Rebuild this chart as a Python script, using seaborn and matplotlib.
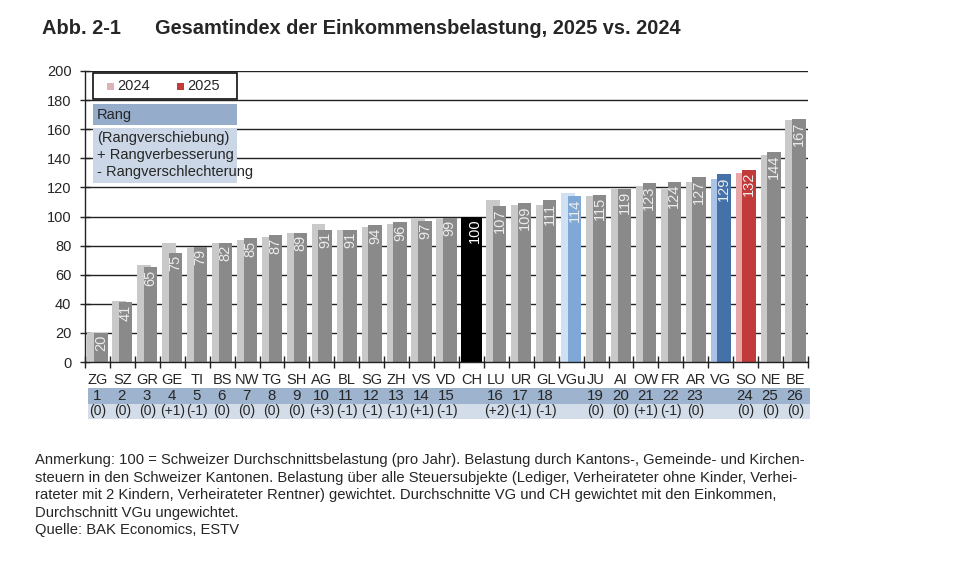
import matplotlib.pyplot as plt
import matplotlib.transforms as mtransforms
from matplotlib.patches import Rectangle
import pandas as pd
import seaborn as sns

# Data
cantons = ['ZG', 'SZ', 'GR', 'GE', 'TI', 'BS', 'NW', 'TG', 'SH', 'AG', 'BL', 'SG', 'ZH', 'VS', 'VD',
           'CH', 'LU', 'UR', 'GL', 'VGu', 'JU', 'AI', 'OW', 'FR', 'AR', 'VG', 'SO', 'NE', 'BE']
index_2025 = [20, 41, 65, 75, 79, 82, 85, 87, 89, 91, 91, 94, 96, 97, 99,
              100, 107, 109, 111, 114, 115, 119, 123, 124, 127, 129, 132, 144, 167]
index_2024 = [20, 42, 67, 82, 79, 82, 84, 86, 89, 95, 91, 93, 95, 99, 98,
              100, 111, 108, 108, 116, 114, 119, 121, 119, 124, 126, 130, 142, 166]
ranks = ['1', '2', '3', '4', '5', '6', '7', '8', '9', '10', '11', '12', '13', '14', '15',
         '', '16', '17', '18', '', '19', '20', '21', '22', '23', '', '24', '25', '26']
shifts = ['(0)', '(0)', '(0)', '(+1)', '(-1)', '(0)', '(0)', '(0)', '(0)', '(+3)', '(-1)', '(-1)',
          '(-1)', '(+1)', '(-1)', '', '(+2)', '(-1)', '(-1)', '', '(0)', '(0)', '(+1)', '(-1)',
          '(0)', '', '(0)', '(0)', '(0)']

note_lines = [
    'Anmerkung: 100 = Schweizer Durchschnittsbelastung (pro Jahr). Belastung durch Kantons-, Gemeinde- und Kirchen-',
    'steuern in den Schweizer Kantonen. Belastung über alle Steuersubjekte (Lediger, Verheirateter ohne Kinder, Verhei-',
    'rateter mit 2 Kindern, Verheirateter Rentner) gewichtet. Durchschnitte VG und CH gewichtet mit den Einkommen,',
    'Durchschnitt VGu ungewichtet.',
    'Quelle: BAK Economics, ESTV',
]

# Colours
light_default, dark_default = '#c9c9c9', '#8a8a8a'
special_light = {'CH': '#000000', 'VGu': '#d0e1f3', 'VG': '#a9c4e6', 'SO': '#e7a6a8'}
special_dark = {'CH': '#000000', 'VGu': '#80a8d7', 'VG': '#4371a8', 'SO': '#c23b3b'}
light_pal = {c: special_light.get(c, light_default) for c in cantons}
dark_pal = {c: special_dark.get(c, dark_default) for c in cantons}

sns.set_style('ticks')
plt.rcParams['font.family'] = ['Liberation Sans Narrow', 'Liberation Sans', 'DejaVu Sans']

W, H = 960, 585
fig = plt.figure(figsize=(9.6, 5.85), dpi=100)
ax = fig.add_axes([85 / W, 1 - 362 / H, (808 - 85) / W, (362 - 71) / H])


def fx(x):
    return x / W


def fy(y):
    return 1 - y / H


pos = list(range(len(cantons)))
df24 = pd.DataFrame({'pos': [p - 0.135 for p in pos], 'value': index_2024, 'canton': cantons})
df25 = pd.DataFrame({'pos': [p + 0.135 for p in pos], 'value': index_2025, 'canton': cantons})

ax.set_axisbelow(True)
ax.yaxis.grid(True, color='#222222', linewidth=1.0)
sns.barplot(data=df24, x='pos', y='value', hue='canton', palette=light_pal, native_scale=True,
            width=0.54, dodge=False, errorbar=None, legend=False, linewidth=0, saturation=1, ax=ax)
sns.barplot(data=df25, x='pos', y='value', hue='canton', palette=dark_pal, native_scale=True,
            width=0.54, dodge=False, errorbar=None, legend=False, linewidth=0, saturation=1, ax=ax)

# Value labels inside the 2025 bars
for p, v, c in zip(pos, index_2025, cantons):
    col = '#ffffff' if c == 'CH' else '#ececec'
    ax.text(p + 0.135, v - 1.5, str(v), rotation=90, ha='center', va='top',
            fontsize=10.5, color=col)

ax.set_xlim(-0.5, len(cantons) - 0.5)
ax.set_ylim(0, 200)
ax.set_yticks(range(0, 201, 20))
ax.set_xticks([])
ax.set_xticks([p - 0.5 for p in range(len(cantons) + 1)], minor=True)
ax.tick_params(axis='x', which='minor', direction='inout', length=8, width=1, color='#222222')
ax.tick_params(axis='y', direction='inout', length=7.5, width=1, color='#222222',
               labelsize=10.5, pad=6)
ax.set_xlabel('')
ax.set_ylabel('')
for s in ['top', 'right']:
    ax.spines[s].set_visible(False)
for s in ['left', 'bottom']:
    ax.spines[s].set_color('#222222')
    ax.spines[s].set_linewidth(1.0)

# Category labels and rank bands below the axis
trans = mtransforms.blended_transform_factory(ax.transData, fig.transFigure)
fig.add_artist(Rectangle((fx(88), fy(404)), fx(810 - 88), 16 / H, color='#9eb3cd', lw=0, zorder=-1))
fig.add_artist(Rectangle((fx(88), fy(419)), fx(810 - 88), 15 / H, color='#d3dde9', lw=0, zorder=-1))
for p, c, r, s in zip(pos, cantons, ranks, shifts):
    fig.text(p, fy(380), c, transform=trans, ha='center', va='center', fontsize=10.5)
    fig.text(p - 0.03, fy(396), r, transform=trans, ha='center', va='center', fontsize=10.8)
    fig.text(p, fy(411.5), s, transform=trans, ha='center', va='center', fontsize=10)

# Legend box
fig.add_artist(Rectangle((fx(93), fy(99)), fx(144), 26 / H, facecolor='white',
                         edgecolor='#111111', lw=1.2))
fig.add_artist(Rectangle((fx(107), fy(90)), fx(7), 7 / H, color='#dcb2b5', lw=0))
fig.text(fx(117), fy(86.5), '2024', ha='left', va='center', fontsize=10.5)
fig.add_artist(Rectangle((fx(177), fy(90)), fx(7), 7 / H, color='#c23b3b', lw=0))
fig.text(fx(187), fy(86.5), '2025', ha='left', va='center', fontsize=10.5)

# Rang boxes
fig.add_artist(Rectangle((fx(93), fy(125)), fx(144), 21 / H, color='#95accb', lw=0))
fig.text(fx(97), fy(115), 'Rang', ha='left', va='center', fontsize=10.5)
fig.add_artist(Rectangle((fx(93), fy(183)), fx(144), 55 / H, color='#cbd7e6', lw=0))
for i, line in enumerate(['(Rangverschiebung)', '+ Rangverbesserung', '- Rangverschlechterung']):
    fig.text(fx(97), fy(138 + 17 * i), line, ha='left', va='center', fontsize=10.5)

# Title
fig.text(fx(42), fy(28), 'Abb. 2-1', ha='left', va='center', fontsize=14.4, fontweight='bold')
fig.text(fx(155), fy(28), 'Gesamtindex der Einkommensbelastung, 2025 vs. 2024',
         ha='left', va='center', fontsize=14.4, fontweight='bold')

# Footnote
for i, line in enumerate(note_lines):
    fig.text(fx(35), fy(460 + 17.6 * i), line, ha='left', va='center', fontsize=10.6)

fig.savefig('out.png', dpi=100)
